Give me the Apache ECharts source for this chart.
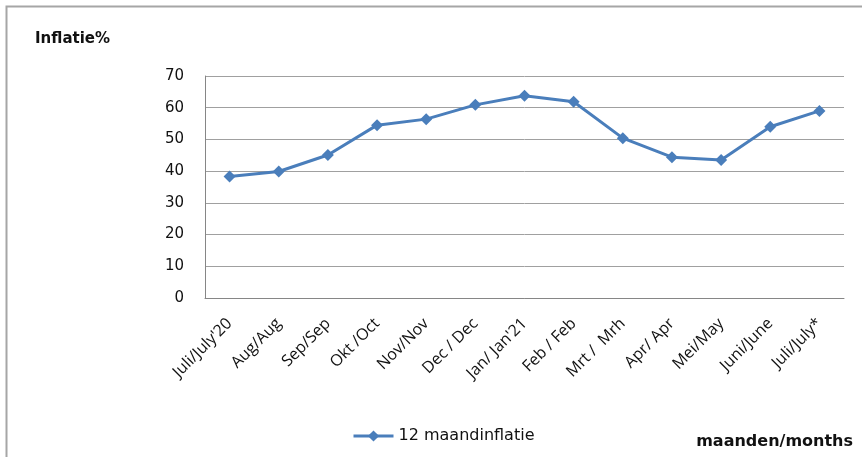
<!DOCTYPE html>
<html>
<head>
<meta charset="utf-8">
<script src="https://cdn.jsdelivr.net/npm/echarts@6/dist/echarts.min.js"></script>
<style>
  html, body { margin: 0; padding: 0; background: #fff; }
  #chart { width: 862px; height: 457px; }
</style>
</head>
<body>
<div id="chart"></div>
<script>
// maanden
var months = ['Juli/July\'20', 'Aug/Aug', 'Sep/Sep', 'Okt /Oct', 'Nov/Nov', 'Dec / Dec',
  'Jan/ Jan\'21', 'Feb / Feb', 'Mrt /  Mrh', 'Apr/ Apr', 'Mei/May', 'Juni/June', 'Juli/July*']
// 12 maandinflatie (%)
var inflatie = [38.3, 39.9, 45.1, 54.5, 56.4, 60.9, 63.8, 61.9, 50.4, 44.4, 43.5, 54.0, 59.0]
var yMin = 0, yMax = 70, yStep = 10

var chart = echarts.init(document.getElementById('chart'))
var blue = '#4a7ebb'

chart.setOption({
  animation: false,
  grid: { left: 205, right: 18, top: 76, bottom: 159 },
  graphic: [
    { // chart border
      type: 'rect', shape: { x: 6.5, y: 6.5, width: 900, height: 480 },
      style: { fill: 'none', stroke: '#a6a6a6', lineWidth: 2 }
    },
    {
      type: 'text', left: 35, top: 32,
      style: { text: 'Inflatie%', font: 'bold 15px "DejaVu Sans"', fill: '#111' }
    },
    {
      type: 'text', right: 9, top: 434,
      style: { text: 'maanden/months', font: 'bold 16px "DejaVu Sans"', fill: '#111' }
    }
  ],
  legend: {
    left: 347, top: 423,
    itemWidth: 40, itemHeight: 14, itemGap: 6,
    lineStyle: { width: 3 },
    textStyle: { fontFamily: 'DejaVu Sans', fontSize: 16, color: '#111' },
    data: ['12 maandinflatie']
  },
  xAxis: {
    type: 'category',
    data: months,
    boundaryGap: true,
    axisLine: { lineStyle: { color: '#868686', width: 1 } },
    axisTick: { show: false },
    axisLabel: {
      rotate: 45, interval: 0, margin: 23,
      fontFamily: 'Open Sans', fontSize: 16, color: '#111'
    },
    splitLine: { show: false }
  },
  yAxis: {
    type: 'value',
    min: yMin, max: yMax, interval: yStep,
    axisLine: { show: true, lineStyle: { color: '#868686', width: 1 } },
    axisTick: { show: false },
    axisLabel: { margin: 21, fontFamily: 'DejaVu Sans', fontSize: 15, color: '#111' },
    splitLine: { lineStyle: { color: '#a0a0a0', width: 1 } }
  },
  series: [{
    name: '12 maandinflatie',
    type: 'line',
    data: inflatie,
    symbol: 'diamond',
    symbolSize: 12,
    itemStyle: { color: blue },
    lineStyle: { color: blue, width: 3 }
  }]
})
</script>
</body>
</html>
